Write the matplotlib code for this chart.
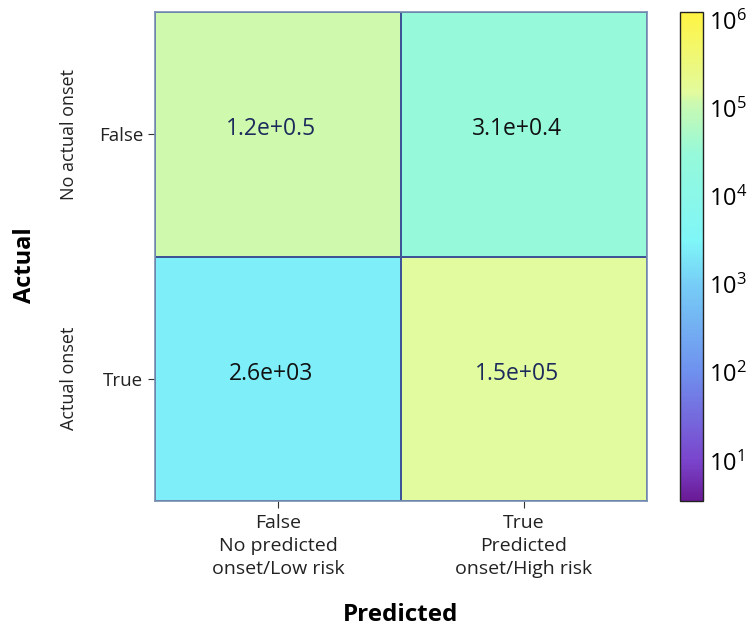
import numpy as np
import matplotlib
matplotlib.use("Agg")
import matplotlib.pyplot as plt
from matplotlib.colors import LogNorm, LinearSegmentedColormap

plt.rcParams['font.family'] = ['Open Sans', 'DejaVu Sans']
plt.rcParams['mathtext.fontset'] = 'dejavuserif'

# confusion matrix counts (rows: actual, cols: predicted)
counts = np.array([[1.2e5, 3.1e4],
                   [2.6e3, 1.5e5]])
cell_text = [["1.2e+0.5", "3.1e+0.4"],
             ["2.6e+03", "1.5e+05"]]
text_colors = [["#1c2a5c", "#111111"],
               ["#111111", "#1c2a5c"]]

x_ticklabels = ["False\nNo predicted\nonset/Low risk", "True\nPredicted\nonset/High risk"]
y_ticklabels = ["False", "True"]
y_sublabels = ["No actual onset", "Actual onset"]
cbar_ticks = [1e1, 1e2, 1e3, 1e4, 1e5, 1e6]

vmin, vmax = 3.5, 1.25e6
norm = LogNorm(vmin=vmin, vmax=vmax)

# custom colour ramp, anchors given in log10 units
anchor_logs = [np.log10(vmin), 1.0, 2.0, 3.0, 3.5, 4.5, 5.08, 5.18, np.log10(vmax)]
anchor_cols = ["#6a1a96", "#7a45cc", "#6f90ee", "#76cdf6", "#7ff6f8",
               "#96f9d9", "#ccf9b0", "#e2fb9e", "#fff443"]
pos = [float(norm(10 ** a)) for a in anchor_logs]
pos[0], pos[-1] = 0.0, 1.0
cmap = LinearSegmentedColormap.from_list("cm_custom", list(zip(pos, anchor_cols)))

fig = plt.figure(figsize=(7.54, 6.28), dpi=100)
ax = fig.add_axes([155 / 754, 1 - 501 / 628, 492 / 754, 489 / 628])
cax = fig.add_axes([680 / 754, 1 - 501 / 628, 23 / 754, 489 / 628])

mesh = ax.pcolormesh(counts, cmap=cmap, norm=norm,
                     edgecolors="#3d5596", linewidth=1.2)
ax.set_xlim(0, 2)
ax.set_ylim(2, 0)

for i in range(2):
    for j in range(2):
        ax.text(j + 0.47, i + 0.48, cell_text[i][j], ha="center", va="center",
                fontsize=16.5, color=text_colors[i][j])

ax.set_xticks([0.5, 1.5])
ax.set_xticklabels(x_ticklabels, fontsize=14, linespacing=1.36)
ax.set_yticks([0.5, 1.5])
ax.set_yticklabels(y_ticklabels, fontsize=13.5)
ax.tick_params(length=5, width=0.8, colors="#333333", labelcolor="#222222")
ax.tick_params(axis="x", pad=4)

for i, lab in enumerate(y_sublabels):
    ax.text(-0.175, i + 0.5, lab, rotation=90, ha="center", va="center",
            fontsize=13, color="#222222", transform=ax.get_yaxis_transform())

ax.set_xlabel("Predicted", fontsize=17.5, fontweight="bold", labelpad=18)
fig.text(25 / 754, 1 - 265 / 628, "Actual", rotation=90, ha="center", va="center",
         fontsize=17, fontweight="bold")

for sp in ax.spines.values():
    sp.set_color("#7890b4")
    sp.set_linewidth(1.2)

cb = fig.colorbar(mesh, cax=cax, ticks=cbar_ticks)
cb.ax.tick_params(length=0, labelsize=17, pad=4)
cb.minorticks_off()
cb.outline.set_linewidth(1.0)
cb.outline.set_edgecolor("#222222")

fig.savefig("out.png", dpi=100)
